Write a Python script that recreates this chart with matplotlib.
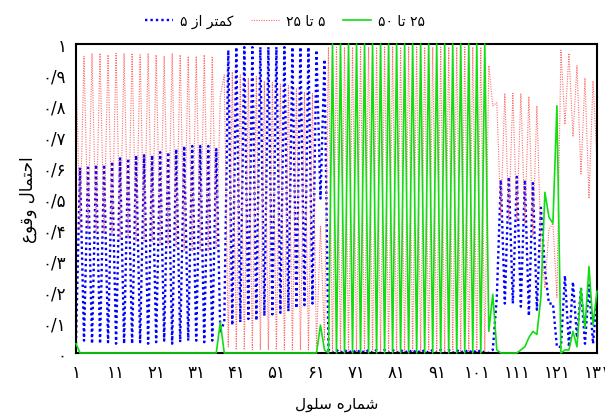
import re
import matplotlib
matplotlib.use('Agg')
import matplotlib.pyplot as plt

# cell index
cells = list(range(1, 132))

# probability per class, one value per cell
less_5 = [0.03, 0.60, 0.04, 0.60, 0.03, 0.61, 0.03, 0.61, 0.035, 0.62,
          0.03, 0.63, 0.03, 0.63, 0.03, 0.64, 0.035, 0.64, 0.03, 0.64,
          0.035, 0.65, 0.04, 0.65, 0.03, 0.66, 0.035, 0.67, 0.04, 0.67,
          0.04, 0.67, 0.035, 0.67, 0.04, 0.66, 0.07, 0.10, 0.98, 0.09,
          0.99, 0.10, 0.99, 0.11, 0.99, 0.105, 0.99, 0.12, 0.99, 0.125,
          0.99, 0.13, 0.99, 0.135, 0.99, 0.145, 0.99, 0.155, 0.99, 0.16,
          0.98, 0.50, 0.95, 0.01, 0.0, 0.01, 0.0, 0.01, 0.0, 0.01,
          0.0, 0.01, 0.0, 0.01, 0.0, 0.01, 0.0, 0.01, 0.0, 0.01,
          0.0, 0.01, 0.0, 0.01, 0.0, 0.01, 0.0, 0.01, 0.0, 0.01,
          0.0, 0.01, 0.0, 0.01, 0.0, 0.01, 0.0, 0.01, 0.0, 0.01,
          0.0, 0.01, 0.0, 0.0, 0.01, 0.18, 0.56, 0.16, 0.57, 0.16,
          0.57, 0.15, 0.56, 0.12, 0.55, 0.14, 0.47, 0.27, 0.16, 0.16,
          0.02, 0.02, 0.25, 0.02, 0.23, 0.05, 0.21, 0.03, 0.22, 0.03,
          0.18]

from_5_to_25 = [0.94, 0.40, 0.96, 0.40, 0.97, 0.39, 0.97, 0.39, 0.965, 0.38,
                0.97, 0.37, 0.97, 0.37, 0.97, 0.36, 0.965, 0.36, 0.97, 0.36,
                0.965, 0.35, 0.96, 0.35, 0.97, 0.34, 0.965, 0.33, 0.96, 0.33,
                0.96, 0.33, 0.965, 0.33, 0.96, 0.34, 0.83, 0.90, 0.02, 0.91,
                0.01, 0.90, 0.01, 0.89, 0.01, 0.895, 0.01, 0.88, 0.01, 0.875,
                0.01, 0.87, 0.01, 0.865, 0.01, 0.855, 0.01, 0.845, 0.01, 0.84,
                0.02, 0.41, 0.04, 0.99, 0.0, 0.99, 0.0, 0.99, 0.0, 0.99,
                0.0, 0.99, 0.0, 0.99, 0.0, 0.99, 0.0, 0.99, 0.0, 0.99,
                0.0, 0.99, 0.0, 0.99, 0.0, 0.99, 0.0, 0.99, 0.0, 0.99,
                0.0, 0.99, 0.0, 0.99, 0.0, 0.99, 0.0, 0.99, 0.0, 0.99,
                0.0, 0.99, 0.0, 0.93, 0.80, 0.81, 0.44, 0.84, 0.43, 0.84,
                0.43, 0.84, 0.42, 0.83, 0.38, 0.80, 0.35, 0.21, 0.40, 0.42,
                0.18, 0.98, 0.74, 0.97, 0.70, 0.93, 0.58, 0.89, 0.50, 0.88,
                0.62]

from_25_to_50 = [0.03, 0.0, 0.0, 0.0, 0.0, 0.0, 0.0, 0.0, 0.0, 0.0,
                 0.0, 0.0, 0.0, 0.0, 0.0, 0.0, 0.0, 0.0, 0.0, 0.0,
                 0.0, 0.0, 0.0, 0.0, 0.0, 0.0, 0.0, 0.0, 0.0, 0.0,
                 0.0, 0.0, 0.0, 0.0, 0.0, 0.0, 0.10, 0.0, 0.0, 0.0,
                 0.0, 0.0, 0.0, 0.0, 0.0, 0.0, 0.0, 0.0, 0.0, 0.0,
                 0.0, 0.0, 0.0, 0.0, 0.0, 0.0, 0.0, 0.0, 0.0, 0.0,
                 0.0, 0.09, 0.01, 0.0, 1.0, 0.0, 1.0, 0.0, 1.0, 0.0,
                 1.0, 0.0, 1.0, 0.0, 1.0, 0.0, 1.0, 0.0, 1.0, 0.0,
                 1.0, 0.0, 1.0, 0.0, 1.0, 0.0, 1.0, 0.0, 1.0, 0.0,
                 1.0, 0.0, 1.0, 0.0, 1.0, 0.0, 1.0, 0.0, 1.0, 0.0,
                 1.0, 0.0, 1.0, 0.07, 0.19, 0.01, 0.0, 0.0, 0.0, 0.0,
                 0.0, 0.01, 0.02, 0.05, 0.07, 0.06, 0.18, 0.52, 0.44, 0.42,
                 0.80, 0.0, 0.01, 0.01, 0.07, 0.02, 0.21, 0.08, 0.28, 0.09,
                 0.20]

x_ticks = [1, 11, 21, 31, 41, 51, 61, 71, 81, 91, 101, 111, 121, 131]
x_tick_labels = ['۱', '۱۱', '۲۱', '۳۱', '۴۱', '۵۱', '۶۱', '۷۱', '۸۱', '۹۱',
                 '۱۰۱', '۱۱۱', '۱۲۱', '۱۳۱']
y_ticks = [0, 0.1, 0.2, 0.3, 0.4, 0.5, 0.6, 0.7, 0.8, 0.9, 1]
y_tick_labels = ['۰', '۰/۱', '۰/۲', '۰/۳', '۰/۴', '۰/۵', '۰/۶', '۰/۷', '۰/۸', '۰/۹', '۱']

legend_labels = ['کمتر از ۵', '۵ تا ۲۵', '۲۵ تا ۵۰']
x_title = 'شماره سلول'
y_title = 'احتمال وقوع'

# matplotlib does no arabic shaping / bidi, so do it by hand
# forms: isolated, final, initial, medial
FORMS = {
    'ا': ('\ufe8d', '\ufe8e', None, None),
    'ت': ('\ufe95', '\ufe96', '\ufe97', '\ufe98'),
    'ح': ('\ufea1', '\ufea2', '\ufea3', '\ufea4'),
    'ر': ('\ufead', '\ufeae', None, None),
    'ز': ('\ufeaf', '\ufeb0', None, None),
    'س': ('\ufeb1', '\ufeb2', '\ufeb3', '\ufeb4'),
    'ش': ('\ufeb5', '\ufeb6', '\ufeb7', '\ufeb8'),
    'ع': ('\ufec9', '\ufeca', '\ufecb', '\ufecc'),
    'ق': ('\ufed5', '\ufed6', '\ufed7', '\ufed8'),
    'ل': ('\ufedd', '\ufede', '\ufedf', '\ufee0'),
    'م': ('\ufee1', '\ufee2', '\ufee3', '\ufee4'),
    'ه': ('\ufee9', '\ufeea', '\ufeeb', '\ufeec'),
    'و': ('\ufeed', '\ufeee', None, None),
    'ک': ('\ufb8e', '\ufb8f', '\ufb90', '\ufb91'),
}
DIGITS = '۰۱۲۳۴۵۶۷۸۹0123456789/'


def fa(text: str) -> str:
    """
    Shape persian letters and reorder to visual (rtl) order.
    :param text: logical order text
    :return: string ready for matplotlib
    """
    shaped = ''
    for i, c in enumerate(text):
        if c not in FORMS:
            shaped += c
            continue
        prev = text[i - 1] if i > 0 else ''
        nxt = text[i + 1] if i + 1 < len(text) else ''
        join_prev = prev in FORMS and FORMS[prev][2] is not None
        join_next = nxt in FORMS and FORMS[c][2] is not None
        iso, fin, ini, med = FORMS[c]
        if join_prev and join_next:
            shaped += med
        elif join_prev:
            shaped += fin
        elif join_next:
            shaped += ini
        else:
            shaped += iso
    runs = re.findall('[' + DIGITS + ']+|[^' + DIGITS + ']+', shaped)
    return ''.join(r if r[0] in DIGITS else r[::-1] for r in reversed(runs))


plt.rcParams['font.family'] = ['DejaVu Sans']

fig = plt.figure(figsize=(6.05, 4.14), dpi=100)
ax = fig.add_axes([76 / 605, 60 / 414, 521 / 605, 309 / 414])

l1, = ax.plot(cells, less_5, color='#0000ff', linewidth=1.7,
              linestyle=(0, (1.0, 1.3)))
l2, = ax.plot(cells, from_5_to_25, color='#ff6a6a', linewidth=0.8,
              linestyle=(0, (1.0, 1.2)))
l3, = ax.plot(cells, from_25_to_50, color='#11dd11', linewidth=1.2,
              clip_on=False, zorder=3)

ax.set_xlim(1, 131)
ax.set_ylim(0, 1)
ax.set_xticks(x_ticks)
ax.set_xticklabels(x_tick_labels, fontsize=12)
ax.set_yticks(y_ticks)
ax.set_yticklabels(y_tick_labels, fontsize=12)
ax.tick_params(length=0, pad=7)
for s in ax.spines.values():
    s.set_linewidth(1.5)

ax.set_xlabel(fa(x_title), fontsize=11, va='center')
ax.xaxis.set_label_coords(0.5, -0.165)
ax.set_ylabel(fa(y_title), fontsize=12, labelpad=4)

fig.legend([l1, l2, l3], [fa(t) for t in legend_labels], loc='center',
           bbox_to_anchor=(285 / 605, 1 - 22 / 414), ncol=3, frameon=False,
           fontsize=10, handlelength=2.0, handletextpad=0.5, columnspacing=1.3)

fig.savefig('out.png', dpi=100)
